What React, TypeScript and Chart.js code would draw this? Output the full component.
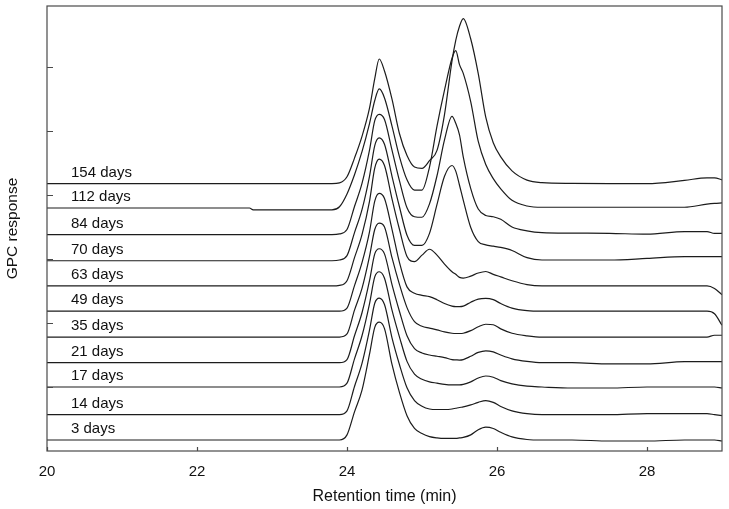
import React, { useEffect, useRef } from 'react';
import { Chart, registerables } from 'chart.js';

Chart.register(...registerables);

// Retention time grid (min)
const retentionTime = [20, 22.7, 22.75, 23.8, 23.9, 24.0, 24.1, 24.2, 24.3, 24.37, 24.43, 24.5, 24.6, 24.7, 24.8, 24.9, 25.0, 25.1, 25.2, 25.3, 25.4, 25.45, 25.5, 25.55, 25.65, 25.75, 25.85, 25.95, 26.05, 26.2, 26.4, 26.6, 27.0, 27.5, 28.0, 28.5, 28.8, 28.9, 29.0];

const sampleLabels = ['3 days', '14 days', '17 days', '21 days', '35 days', '49 days', '63 days', '70 days', '84 days', '112 days', '154 days'];

// vertical offset of each trace's baseline (response units)
const stackOffsets = [0.43, 1.42, 2.5, 3.45, 4.45, 5.46, 6.45, 7.43, 8.45, 9.49, 10.44];

// GPC response (relative to each trace's baseline)
const day3 = [0, 0, 0, 0, 0, 0.2, 1.1, 1.95, 3.35, 4.4, 4.6, 4.35, 2.95, 1.85, 0.95, 0.45, 0.25, 0.13, 0.08, 0.06, 0.06, 0.06, 0.08, 0.1, 0.2, 0.4, 0.5, 0.45, 0.3, 0.12, 0.02, 0, 0, -0.04, -0.04, 0, 0, 0, -0.04];
const day14 = [0, 0, 0, 0, 0, 0.15, 1.1, 2.0, 3.3, 4.35, 4.55, 4.3, 3.0, 1.95, 1.05, 0.55, 0.33, 0.22, 0.2, 0.2, 0.22, 0.25, 0.28, 0.3, 0.38, 0.48, 0.55, 0.48, 0.32, 0.15, 0.04, 0, 0, 0, 0.04, 0.04, 0.04, 0, -0.04];
const day17 = [0, 0, 0, 0, 0, 0.15, 1.1, 2.0, 3.25, 4.3, 4.5, 4.25, 3.0, 1.95, 1.0, 0.5, 0.3, 0.2, 0.15, 0.1, 0.08, 0.08, 0.08, 0.1, 0.2, 0.35, 0.43, 0.38, 0.25, 0.12, 0.03, 0, -0.04, -0.04, 0, 0, 0, 0, -0.04];
const day21 = [0, 0, 0, 0, 0, 0.12, 1.05, 1.95, 3.2, 4.25, 4.45, 4.25, 3.05, 2.0, 1.05, 0.55, 0.38, 0.3, 0.25, 0.2, 0.12, 0.11, 0.1, 0.12, 0.25, 0.4, 0.46, 0.42, 0.3, 0.15, 0.05, 0, 0, -0.05, -0.05, 0.04, 0.04, 0.04, 0.04];
const day35 = [0, 0, 0, 0, 0, 0.12, 1.05, 1.9, 3.15, 4.2, 4.45, 4.3, 3.1, 2.05, 1.15, 0.6, 0.42, 0.35, 0.28, 0.2, 0.15, 0.14, 0.14, 0.15, 0.25, 0.4, 0.5, 0.48, 0.32, 0.15, 0.05, 0, 0, 0, 0, 0, 0, 0.07, 0.07];
const day49 = [0, 0, 0, 0, 0, 0.12, 1.0, 1.9, 3.1, 4.3, 4.6, 4.4, 3.2, 1.9, 0.95, 0.7, 0.62, 0.57, 0.45, 0.3, 0.2, 0.18, 0.18, 0.2, 0.35, 0.47, 0.5, 0.45, 0.3, 0.12, 0.02, 0, 0, 0, 0, 0, 0, -0.1, -0.55];
const day63 = [0, 0, 0, 0, 0.02, 0.2, 1.1, 2.0, 3.3, 4.6, 4.95, 4.7, 3.4, 2.2, 1.15, 0.95, 1.2, 1.43, 1.2, 0.85, 0.55, 0.45, 0.33, 0.3, 0.38, 0.5, 0.56, 0.45, 0.35, 0.2, 0.05, 0, 0, 0, 0, 0, 0, -0.1, -0.35];
const day70 = [0, 0, 0, 0, 0.03, 0.2, 1.1, 2.0, 3.3, 4.5, 4.8, 4.55, 3.3, 2.1, 1.0, 0.6, 0.6, 1.07, 2.2, 3.3, 3.72, 3.5, 2.95, 2.37, 1.3, 0.75, 0.62, 0.57, 0.52, 0.4, 0.12, 0.03, 0.03, 0.03, 0.09, 0.16, 0.16, 0.16, 0.16];
const day84 = [0, 0, 0, 0, 0.03, 0.2, 1.1, 2.0, 3.3, 4.45, 4.7, 4.5, 3.3, 2.1, 1.05, 0.7, 0.68, 1.2, 2.3, 3.7, 4.62, 4.35, 3.9, 3.04, 1.8, 1.0, 0.75, 0.7, 0.6, 0.3, 0.15, 0.08, 0.06, 0.05, 0.02, 0.12, 0.12, 0.05, 0.05];
const day112 = [0, 0, -0.07, -0.07, 0.05, 0.55, 1.3, 2.2, 3.3, 4.2, 4.65, 4.3, 3.2, 2.0, 1.1, 0.7, 0.7, 1.6, 3.2, 4.6, 5.85, 6.15, 5.6, 5.26, 4.15, 2.6, 1.7, 1.15, 0.75, 0.3, 0.08, 0.03, 0.03, 0.03, 0.03, 0.03, 0.15, 0.18, 0.2];
const day154 = [0, 0, 0, 0, 0.03, 0.27, 1.0, 1.85, 2.95, 4.1, 4.87, 4.4, 3.3, 1.95, 1.1, 0.65, 0.6, 0.9, 1.3, 2.7, 4.8, 5.6, 6.15, 6.45, 5.65, 4.3, 2.6, 1.6, 1.05, 0.5, 0.14, 0.04, 0.01, 0, 0, 0.13, 0.23, 0.23, 0.15];

const seriesValues = [day3, day14, day17, day21, day35, day49, day63, day70, day84, day112, day154];

const xTickValues = [20, 22, 24, 26, 28];
const yTickValues = [2.5, 5, 7.5, 10, 12.5, 15];
const labelX = 20.32;

const FONT = "'Liberation Sans', Arial, Helvetica, sans-serif";

const framePlugin = {
  id: 'frameAndLabels',
  afterDraw(chart: any) {
    const { ctx, chartArea, scales } = chart;
    const xs = scales.x;
    const ys = scales.y;
    ctx.save();
    ctx.strokeStyle = '#4a4a4a';
    ctx.lineWidth = 1.2;
    ctx.strokeRect(chartArea.left, chartArea.top, chartArea.right - chartArea.left, chartArea.bottom - chartArea.top);
    ctx.beginPath();
    xTickValues.forEach((v) => {
      const px = Math.round(xs.getPixelForValue(v)) + 0.5;
      ctx.moveTo(px, chartArea.bottom);
      ctx.lineTo(px, chartArea.bottom - 4);
    });
    yTickValues.forEach((v) => {
      const py = Math.round(ys.getPixelForValue(v)) + 0.5;
      ctx.moveTo(chartArea.left, py);
      ctx.lineTo(chartArea.left + 6, py);
    });
    ctx.stroke();
    ctx.fillStyle = '#111';
    ctx.font = `15px ${FONT}`;
    ctx.textAlign = 'left';
    ctx.textBaseline = 'alphabetic';
    sampleLabels.forEach((lab, i) => {
      ctx.fillText(lab, xs.getPixelForValue(labelX), ys.getPixelForValue(stackOffsets[i] + 0.27));
    });
    ctx.restore();
  },
};

export default function App() {
  const canvasRef = useRef<HTMLCanvasElement | null>(null);

  useEffect(() => {
    if (!canvasRef.current) return;
    Chart.defaults.font.family = FONT;
    const datasets = seriesValues.map((vals, i) => ({
      label: sampleLabels[i],
      data: retentionTime.map((t, j) => ({ x: t, y: vals[j] + stackOffsets[i] })),
      borderColor: '#1c1c1c',
      borderWidth: 1.2,
      pointRadius: 0,
      cubicInterpolationMode: 'monotone',
      fill: false,
    }));
    const chart = new Chart(canvasRef.current, {
      type: 'line',
      data: { datasets },
      options: {
        animation: false,
        responsive: false,
        devicePixelRatio: 1,
        layout: { padding: { left: 0, right: 7, top: 6, bottom: 0 } },
        plugins: { legend: { display: false }, tooltip: { enabled: false } },
        scales: {
          x: {
            type: 'linear',
            min: 20,
            max: 29,
            afterBuildTicks: (s: any) => {
              s.ticks = xTickValues.map((v) => ({ value: v }));
            },
            grid: { display: false, drawTicks: false },
            border: { display: false },
            ticks: { padding: 12, color: '#111', font: { size: 15, family: FONT }, maxRotation: 0 },
            title: { display: true, text: 'Retention time (min)', color: '#111', font: { size: 16, family: FONT }, padding: { top: 0, bottom: 3 } },
            afterFit: (s: any) => {
              s.height = 58;
            },
          },
          y: {
            type: 'linear',
            min: 0,
            max: 17.38,
            ticks: { display: false },
            grid: { display: false, drawTicks: false },
            border: { display: false },
            title: { display: true, text: 'GPC response', color: '#111', font: { size: 15.5, family: FONT }, padding: { top: 3, bottom: 0 } },
            afterFit: (s: any) => {
              s.width = 47;
            },
          },
        },
      },
      plugins: [framePlugin],
    } as any);
    return () => chart.destroy();
  }, []);

  return (
    <div style={{ position: 'fixed', left: 0, top: 0, width: 729, height: 509, background: '#fff' }}>
      <canvas ref={canvasRef} width={729} height={509} style={{ width: 729, height: 509, display: 'block' }} />
    </div>
  );
}
